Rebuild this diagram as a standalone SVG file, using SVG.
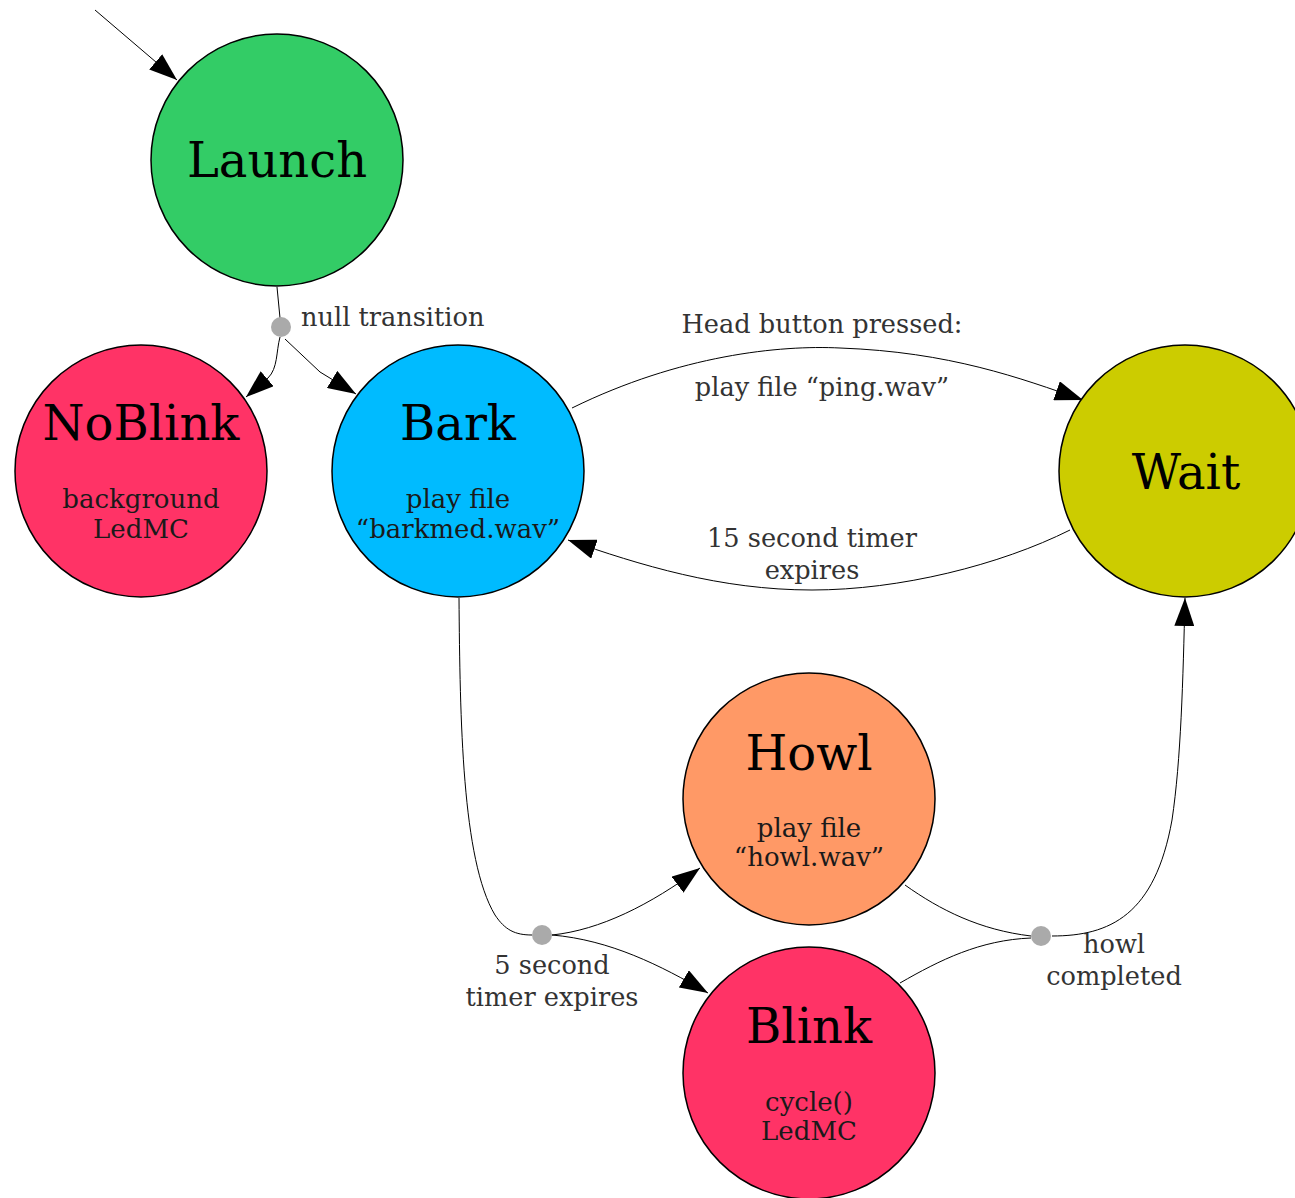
<svg xmlns="http://www.w3.org/2000/svg" width="1295" height="1198" viewBox="0 0 1295 1198">
<style>
.node{stroke:#000;stroke-width:1.5}
.title{font-family:"DejaVu Serif",serif;font-size:48px;fill:#000;text-anchor:middle}
.sub{font-family:"DejaVu Serif",serif;font-size:26px;fill:#1a1a1a;text-anchor:middle}
.lbl{font-family:"DejaVu Serif",serif;font-size:25.6px;fill:#333;text-anchor:middle}
.edge{fill:none;stroke:#000;stroke-width:1;marker-end:url(#ah)}
.plain{fill:none;stroke:#000;stroke-width:1}
.dot{fill:#aaa}
</style>
<defs>
<marker id="ah" viewBox="0 0 28 20" refX="28" refY="10" markerWidth="28" markerHeight="20" orient="auto" markerUnits="userSpaceOnUse">
<path d="M0,0 L28,10 L0,20 z" fill="#000"/>
</marker>
</defs>
<rect width="1295" height="1198" fill="#fff"/>
<g id="connectors">
<path class="edge" d="M95,10 L177,80"/>
<path class="plain" d="M277,287 L280,318"/>
<path class="edge" d="M280,337 C276,352 278,368 268,378 L246,397"/>
<path class="edge" d="M285,339 L320,372 L356,394"/>
<path class="edge" d="M572,408 C680,355 780,345 840,348 C950,352 1020,378 1083,400"/>
<path class="edge" d="M1070,530 C1000,565 900,590 812,590 C720,590 640,565 568,540"/>
<path class="plain" d="M459,598 C460,720 462,860 495,915 C505,930 515,935 532,935"/>
<path class="edge" d="M552,935 C600,930 650,905 700,868"/>
<path class="edge" d="M552,935 C610,940 660,965 708,993"/>
<path class="plain" d="M905,885 C940,910 980,930 1031,936"/>
<path class="plain" d="M900,983 C940,960 980,940 1031,938"/>
<path class="edge" d="M1052,936 C1110,936 1155,915 1172,820 C1181,760 1183,680 1185,598"/>
<circle class="dot" cx="281" cy="327" r="10"/>
<circle class="dot" cx="542" cy="935" r="10"/>
<circle class="dot" cx="1041" cy="936" r="10"/>
<text class="lbl" x="301" y="326" style="text-anchor:start">null transition</text>
<text class="lbl" x="822" y="333">Head button pressed:</text>
<text class="lbl" x="822" y="396">play file “ping.wav”</text>
<text class="lbl" x="812" y="547">15 second timer</text>
<text class="lbl" x="812" y="579">expires</text>
<text class="lbl" x="552" y="974">5 second</text>
<text class="lbl" x="552" y="1006">timer expires</text>
<text class="lbl" x="1114" y="953">howl</text>
<text class="lbl" x="1114" y="985">completed</text>
</g>
<g id="launch">
<circle class="node" cx="277" cy="160" r="126" fill="#33cc66"/>
<text class="title" x="277" y="177">Launch</text>
</g>
<g id="noblink">
<circle class="node" cx="141" cy="471" r="126" fill="#ff3366"/>
<text class="title" x="141" y="440">NoBlink</text>
<text class="sub" x="141" y="508">background</text>
<text class="sub" x="141" y="538">LedMC</text>
</g>
<g id="bark">
<circle class="node" cx="458" cy="471" r="126" fill="#00bbff"/>
<text class="title" x="458" y="440">Bark</text>
<text class="sub" x="458" y="508">play file</text>
<text class="sub" x="458" y="538">“barkmed.wav”</text>
</g>
<g id="wait">
<circle class="node" cx="1185" cy="471" r="126" fill="#cccc00"/>
<text class="title" x="1186" y="489">Wait</text>
</g>
<g id="howl">
<circle class="node" cx="809" cy="799" r="126" fill="#ff9966"/>
<text class="title" x="809" y="770">Howl</text>
<text class="sub" x="809" y="837">play file</text>
<text class="sub" x="809" y="866">“howl.wav”</text>
</g>
<g id="blink">
<circle class="node" cx="809" cy="1073" r="126" fill="#ff3366"/>
<text class="title" x="809" y="1043">Blink</text>
<text class="sub" x="809" y="1111">cycle()</text>
<text class="sub" x="809" y="1140">LedMC</text>
</g>
</svg>
